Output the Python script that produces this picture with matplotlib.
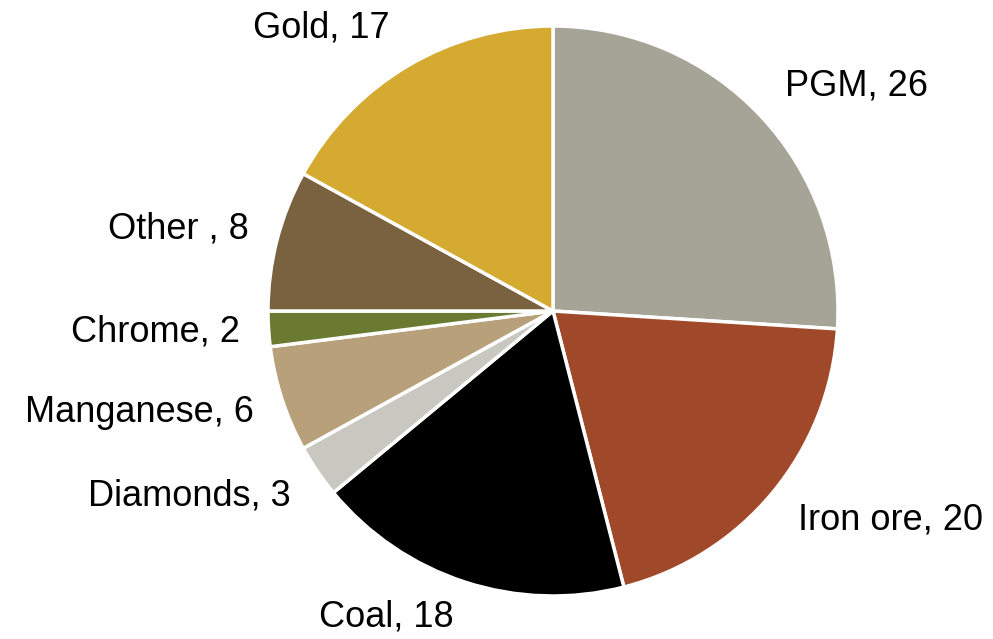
import matplotlib
matplotlib.use("Agg")
import numpy as np
import matplotlib.pyplot as plt

plt.rcParams['font.family'] = ['Liberation Sans', 'DejaVu Sans']

# Share by commodity, clockwise from 12 o'clock
categories = ["PGM", "Iron ore", "Coal", "Diamonds", "Manganese", "Chrome", "Other ", "Gold"]
values = [26, 20, 18, 3, 6, 2, 8, 17]
colors = ["#A6A397", "#A0492A", "#000000", "#C9C8C0", "#B8A07B", "#6B7A31", "#7A6240", "#D4AA30"]

labels = [f"{c}, {v}" for c, v in zip(categories, values)]

fig = plt.figure(figsize=(9.93, 6.39), dpi=100)
ax = fig.add_axes([0.2699, 0.0673, 0.574, 0.892])
wedges, texts = ax.pie(values, labels=labels, colors=colors, startangle=90,
                       counterclock=False, labeldistance=1.10,
                       wedgeprops=dict(edgecolor="white", linewidth=2.5),
                       textprops=dict(fontsize=26, color="black"))

# Excel-style label placement: a bit further out vertically than horizontally,
# with the bottom label pulled in so it stays inside the figure
for w, t in zip(wedges, texts):
    ang = np.deg2rad((w.theta1 + w.theta2) / 2)
    s = np.sin(ang)
    dx = 1.10 + 0.035 * s ** 2
    dy = 1.155 - 0.03 * max(0.0, -s) ** 4
    t.set_position((dx * np.cos(ang), dy * s))

ax.set_aspect("equal")
ax.set_xlim(-1, 1)
ax.set_ylim(-1, 1)

fig.savefig("out.png", dpi=100)
